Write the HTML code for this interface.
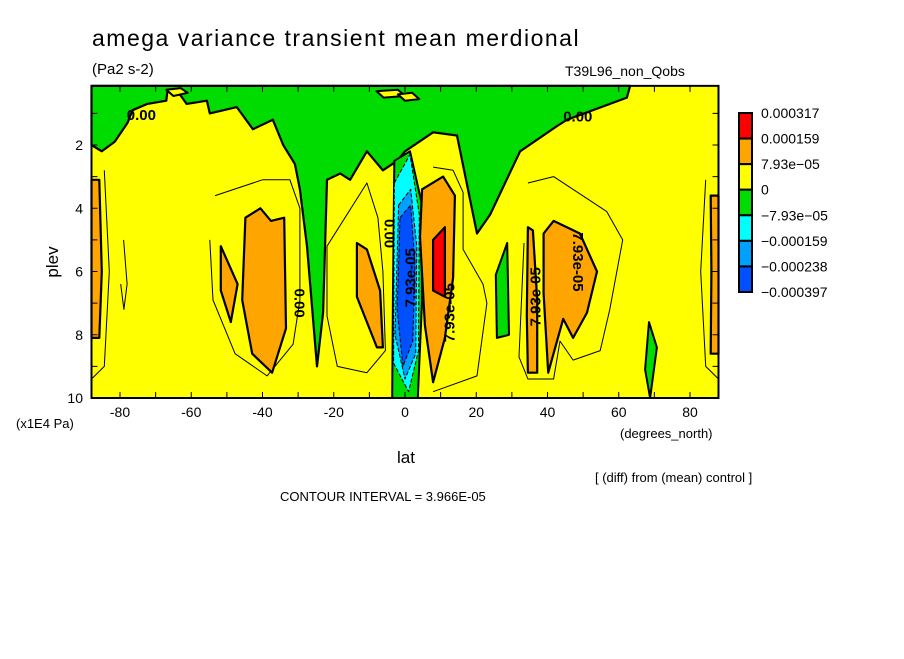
<!DOCTYPE html>
<html><head><meta charset="utf-8"><style>
body{margin:0;background:#fff;}
svg text{font-family:"Liberation Sans",sans-serif;}
</style></head><body>
<svg id="chart" width="904" height="654" viewBox="0 0 904 654" xmlns="http://www.w3.org/2000/svg">
<rect width="904" height="654" fill="#fff"/>
<text x="92" y="46" font-size="23" letter-spacing="1.5">amega variance transient mean merdional</text>
<text x="92" y="74" font-size="15">(Pa2 s-2)</text>
<text x="565" y="76" font-size="14">T39L96_non_Qobs</text>
<g id="plot"></g>
<g id="axes"></g>
<g id="legend"></g>
<text transform="translate(58,262) rotate(-90)" font-size="17" text-anchor="middle">plev</text>
<text x="16" y="428" font-size="13">(x1E4 Pa)</text>
<text x="620" y="438" font-size="13">(degrees_north)</text>
<text x="406" y="463" font-size="17" text-anchor="middle">lat</text>
<text x="595" y="482" font-size="13">[ (diff) from (mean) control ]</text>
<text x="280" y="501" font-size="13">CONTOUR INTERVAL = 3.966E-05</text>
</svg>
<script>
const xTicks=[-80,-60,-40,-20,0,20,40,60,80];
const yTicks=[2,4,6,8,10];
const legendLabels=["0.000317","0.000159","7.93e-05","0","-7.93e-05","-0.000159","-0.000238","-0.000397"];
const legendColors=["#ff0000","#ffa500","#ffff00","#00dc00","#00ffff","#00a0ff","#0050ff"];
// filled regions in (lat, plev) coordinates
const greenTop=[[-88,2],[-85.1,2.2],[-81.5,1.9],[-77.9,1.3],[-76.5,0.9],[-72.3,0.7],[-67,0.6],[-66.7,0.3],[-63.2,0.4],[-61.3,0.7],[-55.6,0.6],[-54.8,1],[-47.2,0.8],[-42.7,1.5],[-37.1,1.2],[-34.2,2],[-30.9,2.6],[-29.5,3.4],[-27.5,5.2],[-24.7,9],[-23,7.3],[-21.9,3.1],[-18.2,2.9],[-15.4,3.1],[-10.7,2.2],[-6.2,2.8],[-2.2,2.5],[0,2.2],[7.9,1.6],[14.6,1.7],[20.2,4.8],[23.9,4.2],[32.3,2.2],[42.7,1.4],[45.5,1.2],[62.3,0.5],[63.2,0.13],[-88,0.13]];
const greenEq=[[-3.6,10],[-3.4,6.9],[-3,2.5],[1.4,2.2],[4.6,3.8],[4.8,6.9],[3.6,10]];
const cyanEq=[[-3,3.2],[1.4,2.3],[4,4.2],[3.8,8.5],[1,9.8],[-3.2,8.9]];
const midBlueEq=[[-1.8,3.9],[1.6,3.4],[3.3,5.2],[3,8.6],[0,9.4],[-2.8,8]];
const darkBlueEq=[[-1.4,4.3],[1.6,3.9],[2.8,5.8],[2.2,8.2],[-0.6,9],[-2.2,7.2]];
const greenA=[[28.7,5.1],[29.2,8],[25.8,8.1],[25.5,6.1]];
const greenB=[[68.5,7.6],[70.7,8.4],[68.8,10],[67.4,9.1]];
const orangeRegions=[
 [[-44.8,4.3],[-40.6,4],[-37.6,4.4],[-33.9,4.3],[-33.4,7.8],[-37.3,9.2],[-42.9,8.6],[-45.7,6.9]],
 [[-51.7,5.2],[-47,6.4],[-48.9,7.6],[-51.7,6.6]],
 [[-13.5,5.1],[-10.7,5.3],[-7,6.6],[-6.2,8.4],[-7.9,8.4],[-13.5,6.8]],
 [[-88,3.1],[-85.8,3.1],[-85.1,6],[-85.8,8.1],[-88,8.1]],
 [[4.8,3.4],[10.7,3],[14,3.6],[13.5,6.2],[11.2,8.1],[7.9,9.5],[5.6,7.7],[4.2,4.9]],
 [[34.5,4.6],[35.9,4.7],[37.1,6.9],[37.1,9.2],[34.5,9.2],[34.2,7.4]],
[[38.9,4.8],[41.7,4.4],[49.1,4.8],[53.9,6],[51.1,7.3],[47.2,8.1],[44.4,7.5],[40.2,9.2],[38.9,6.7]],
 [[88,3.6],[85.8,3.6],[86,6],[85.8,8.6],[88,8.6]]];
const redRegion=[[7.9,5],[11.2,4.6],[11.2,6.8],[7.9,6.6]];
const thinLines=[
 [[-53.3,3.6],[-40,3.1],[-32.3,3.1],[-29.5,4],[-29.5,6.9],[-31.4,8.3],[-38.7,9.3],[-47.7,8.6],[-53.9,6.9],[-54.8,5]],
 [[-21.9,5.2],[-10.7,3.2],[-7.6,4.3],[-6.2,6],[-5.5,8.5],[-10.7,9.2],[-19,9],[-21.9,7.4],[-21.9,5.2]],
 [[7.9,2.7],[13.5,2.8],[16.3,3.5],[16.3,5.3],[21.9,6.4],[23,7],[20.2,9.3],[7.9,9.8]],
 [[34.5,3.2],[41.7,3],[56.6,4.1],[61.1,5],[57.5,7.2],[54.8,8.5],[47.2,8.8],[43.5,8.2],[41.7,9.4],[34.5,9.4],[32,8.7],[33.4,5.1]],
 [[-79,5],[-78,6.4],[-78.9,7.2],[-79.8,6.4]],
 [[-84.4,2.8],[-83,6],[-84.4,9],[-88,9.4]],
 [[84.4,3.1],[83,6],[84.4,9],[88,9.4]]];
const yellowIslands=[[[-67,0.25],[-63,0.2],[-61,0.35],[-65,0.45]],[[-8,0.3],[-2,0.25],[0,0.45],[-6,0.5]],[[-2,0.4],[2,0.35],[4,0.55],[0,0.6]]];
const labels=[{t:"0.00",lat:-74,p:1.05,r:0},{t:"0.00",lat:48.5,p:1.1,r:0},{t:"0.00",lat:-29.6,p:7,r:90},{t:"7.93e-05",lat:12.5,p:7.3,r:-90},{t:"7.93e-05",lat:36.6,p:6.8,r:-90},{t:"7.93e-05",lat:48.5,p:5.7,r:90},{t:"0.00",lat:-4.4,p:4.8,r:90},{t:"7.93e-05",lat:1.5,p:6.2,r:-90}];

const X=lat=>405+lat*3.5625;
const Y=p=>398-(10-p)*31.625;
const NS="http://www.w3.org/2000/svg";
const plot=document.getElementById('plot');
const pts=a=>a.map(d=>X(d[0]).toFixed(1)+","+Y(d[1]).toFixed(1)).join(" ");
function poly(a,fill,sw,name,closed=true){
 const e=document.createElementNS(NS,closed?'polygon':'polyline');
 e.setAttribute('points',pts(a));
 e.setAttribute('fill',fill);
 e.setAttribute('stroke','#000');
 e.setAttribute('stroke-width',sw);
 e.setAttribute('stroke-linejoin','round');
 
 
 plot.appendChild(e);return e;
}
const bg=document.createElementNS(NS,'rect');
bg.setAttribute('x',X(-88));bg.setAttribute('y',Y(0.13));
bg.setAttribute('width',X(88)-X(-88));bg.setAttribute('height',Y(10)-Y(0.13));
bg.setAttribute('fill','#ffff00');


plot.appendChild(bg);
thinLines.forEach(l=>poly(l,'none',1,'contour-line',false));
poly(greenTop,'#00dc00',2.2,'negative-region-top');
yellowIslands.forEach(l=>poly(l,'#ffff00',2,'positive-island'));
poly(greenEq,'#00dc00',2,'negative-region-equator');
poly(cyanEq,'#00ffff',1,'cyan-region').setAttribute('stroke-dasharray','4 2');
poly(midBlueEq,'#00a0ff',1,'mid-blue-region').setAttribute('stroke-dasharray','4 2');
poly(darkBlueEq,'#0050ff',1,'dark-blue-region').setAttribute('stroke-dasharray','4 2');
poly(greenA,'#00dc00',2,'negative-region-30n');
poly(greenB,'#00dc00',2,'negative-region-68n');
orangeRegions.forEach(r=>poly(r,'#ffa500',2.2,'positive-region'));
poly(redRegion,'#ff0000',2.2,'max-region');
labels.forEach(l=>{
 const t=document.createElementNS(NS,'text');
 t.textContent=l.t;
 t.setAttribute('font-size','15');
 t.setAttribute('font-weight','bold');
 t.setAttribute('text-anchor','middle');
 t.setAttribute('transform',`translate(${X(l.lat)},${Y(l.p)}) rotate(${l.r})`);
 t.setAttribute('dy','5');
 
 
 plot.appendChild(t);
});
const frame=document.createElementNS(NS,'rect');
frame.setAttribute('x',X(-88));frame.setAttribute('y',Y(0.13));
frame.setAttribute('width',X(88)-X(-88));frame.setAttribute('height',Y(10)-Y(0.13));
frame.setAttribute('fill','none');frame.setAttribute('stroke','#000');frame.setAttribute('stroke-width','2');


plot.appendChild(frame);
const axes=document.getElementById('axes');
for(let v=-80;v<=80;v+=10){
 [[Y(10),Y(10)-6],[Y(0.13),Y(0.13)+6]].forEach(([a,b])=>{
  const l=document.createElementNS(NS,'line');
  l.setAttribute('x1',X(v));l.setAttribute('x2',X(v));l.setAttribute('y1',a);l.setAttribute('y2',b);
  l.setAttribute('stroke','#000');
  
  
  axes.appendChild(l);
 });
}
for(let p=1;p<=10;p++){
 [[X(-88),X(-88)+6],[X(88),X(88)-6]].forEach(([a,b])=>{
  const l=document.createElementNS(NS,'line');
  l.setAttribute('y1',Y(p));l.setAttribute('y2',Y(p));l.setAttribute('x1',a);l.setAttribute('x2',b);
  l.setAttribute('stroke','#000');
  
  
  axes.appendChild(l);
 });
}
xTicks.forEach(v=>{
 const t=document.createElementNS(NS,'text');
 t.textContent=v;t.setAttribute('x',X(v));t.setAttribute('y',417);
 t.setAttribute('font-size','14');t.setAttribute('text-anchor','middle');
 
 
 axes.appendChild(t);
});
yTicks.forEach(v=>{
 const t=document.createElementNS(NS,'text');
 t.textContent=v;t.setAttribute('x',83);t.setAttribute('y',Y(v)+5);
 t.setAttribute('font-size','14');t.setAttribute('text-anchor','end');
 
 
 axes.appendChild(t);
});
const lg=document.getElementById('legend');
const bh=(292-113)/legendColors.length;
legendColors.forEach((c,i)=>{
 const r=document.createElementNS(NS,'rect');
 r.setAttribute('x',739);r.setAttribute('y',113+i*bh);r.setAttribute('width',13);r.setAttribute('height',bh);
 r.setAttribute('fill',c);r.setAttribute('stroke','#000');r.setAttribute('stroke-width','2');
 
 
 lg.appendChild(r);
});
legendLabels.forEach((s,i)=>{
 const t=document.createElementNS(NS,'text');
 t.textContent=s.replace(/-/g,'\u2212');t.setAttribute('x',761);t.setAttribute('y',113+i*bh+5);
 t.setAttribute('font-size','14');
 
 
 lg.appendChild(t);
});
</script>
</body></html>
